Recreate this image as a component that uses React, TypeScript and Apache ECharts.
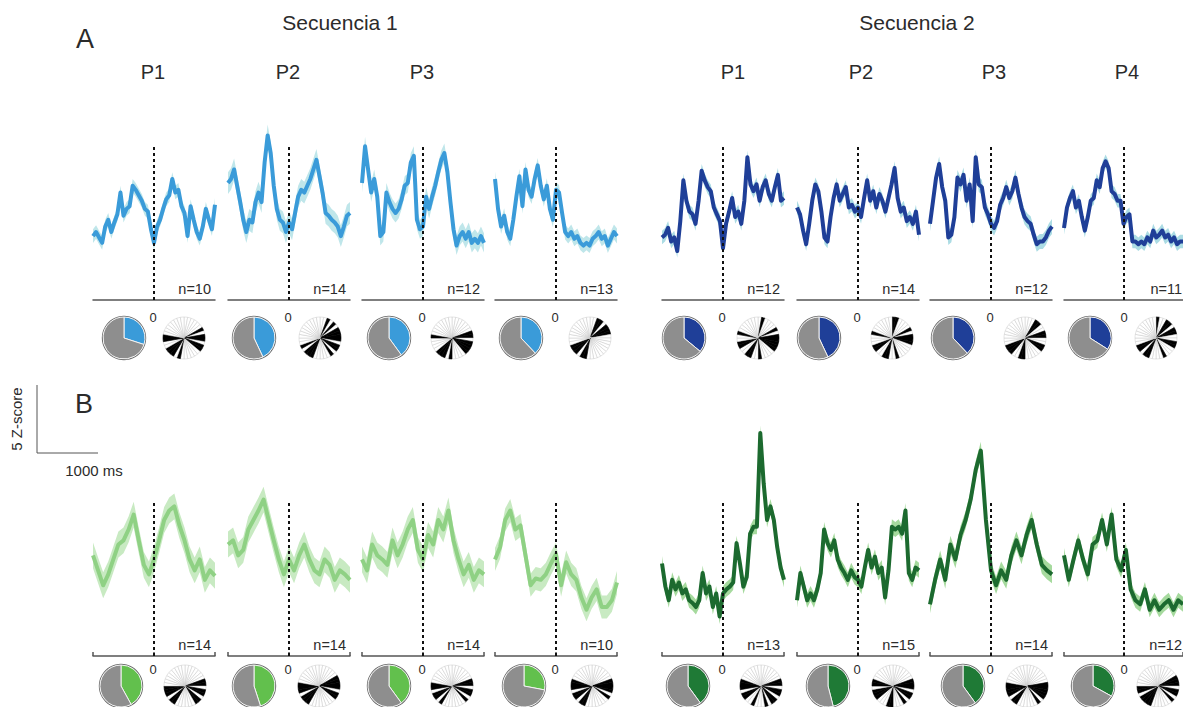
import React, { useEffect, useRef } from "react";
import * as echarts from "echarts";

// ---------- DATA (z-score, time -1000..1000 ms) ----------
const T_MIN = -1000;
const T_MAX = 1000;
const STIM_T = 0;
const MARK_H = 11.3;

const S1A_P1 = [4.7,5.0,4.6,4.2,5.4,5.9,5.0,5.7,6.3,7.9,6.2,6.7,6.9,8.4,8.1,7.7,7.3,6.7,6.5,5.2,4.2,5.4,5.9,6.7,7.4,7.7,8.9,7.9,8.1,6.9,6.4,4.7,6.9,5.9,5.0,4.5,5.4,6.7,5.9,5.2,7.0];
const S1A_P2 = [8.6,8.9,9.6,8.4,7.2,5.9,5.0,5.9,5.7,7.2,7.9,7.2,10.1,12.1,10.8,8.4,6.7,5.9,5.7,5.0,5.7,5.2,6.4,7.6,8.1,7.9,8.4,8.9,9.6,10.3,9.1,7.9,6.4,6.2,5.9,5.7,5.4,4.7,5.4,6.2,6.4];
const S1A_P3 = [8.6,11.3,9.6,7.9,8.9,7.6,4.7,5.0,7.9,7.2,6.7,6.4,6.7,7.4,8.4,8.6,10.1,10.6,5.9,5.2,5.4,7.6,6.7,7.6,8.4,9.4,10.3,10.8,9.4,7.2,5.2,4.0,4.7,5.0,4.5,5.0,4.2,4.5,4.2,4.7,4.2];
const S1A_P4 = [8.9,6.7,5.4,6.2,5.0,4.5,5.9,7.6,9.1,6.9,9.6,8.1,7.6,8.9,9.9,8.4,7.4,8.4,6.7,5.9,8.1,7.9,6.4,5.0,4.7,5.0,4.5,4.7,4.2,4.0,4.2,4.0,4.5,4.7,5.0,4.5,4.7,4.0,4.5,5.0,4.7];
const S2A_P1 = [4.6,4.8,5.3,4.3,4.6,3.6,5.8,8.8,7.3,6.5,6.3,5.6,7.3,9.5,8.8,8.3,8.0,6.8,6.3,5.8,3.8,5.6,6.5,7.5,6.1,6.5,5.6,7.3,10.5,8.5,8.0,8.5,7.3,8.3,8.8,7.8,7.3,8.3,9.2,7.3,7.5];
const S2A_P2 = [6.8,6.3,5.1,4.1,5.6,7.3,8.5,8.0,6.5,4.6,4.3,6.1,7.5,8.5,7.3,7.8,8.3,6.8,7.0,6.5,6.8,6.1,7.5,8.8,7.3,8.0,6.8,7.8,7.3,6.5,7.5,8.5,9.7,7.5,6.5,6.8,5.8,6.1,5.6,6.5,4.8];
const S2A_P3 = [5.6,7.3,9.0,10.0,8.3,7.3,4.6,4.8,6.1,9.0,8.5,9.2,7.3,8.5,5.8,10.5,8.5,8.3,6.8,6.3,5.6,5.3,5.8,7.0,7.5,8.3,7.5,8.0,9.0,7.8,6.8,6.1,5.8,5.6,4.8,4.1,4.3,4.3,4.6,5.1,5.4];
const S2A_P4 = [5.3,6.8,7.5,8.0,6.8,7.3,6.1,5.1,6.1,7.3,7.5,8.8,8.3,9.7,10.2,9.7,8.0,7.8,7.3,7.3,5.6,6.1,6.3,4.3,4.3,4.1,4.3,4.1,4.6,4.3,5.1,4.6,4.8,5.1,4.6,4.8,4.3,4.6,4.1,4.3,4.3];

const S1B_P1 = [7.4,6.3,5.2,6.0,7.1,8.2,8.5,9.3,10.4,8.5,6.7,6.0,7.1,8.5,10.0,10.7,11.0,9.6,8.5,7.1,6.3,7.1,5.6,6.3,5.9];
const S1B_P2 = [8.2,8.5,7.4,7.8,9.3,10.0,10.7,11.5,10.0,8.5,7.1,6.0,7.1,6.3,7.4,8.2,7.1,6.3,6.0,7.1,6.7,5.6,6.3,6.0,5.6];
const S1B_P3 = [7.1,6.3,8.2,7.4,7.1,6.7,8.5,7.4,8.2,9.3,10.0,7.8,7.1,8.9,8.2,10.0,9.3,10.7,8.5,7.1,6.0,6.7,5.6,6.3,6.0];
const S1B_P4 = [7.1,8.0,10.0,10.7,9.3,9.6,7.4,5.2,5.7,5.6,6.0,6.8,7.5,5.2,6.9,6.0,5.6,4.3,3.4,4.3,4.9,3.6,3.6,4.1,5.4];
const S2B_P1 = [6.8,5.1,4.1,5.6,4.9,5.4,4.6,4.9,4.1,3.9,3.6,4.1,6.1,4.6,5.1,3.6,4.6,2.9,4.6,4.9,5.1,5.4,8.3,6.8,5.1,5.8,9.0,9.5,9.5,16.4,12.7,10.0,11.0,10.0,8.0,6.5,5.6];
const S2B_P2 = [4.1,6.1,5.1,4.1,4.6,4.1,4.9,6.1,9.3,8.3,7.8,8.5,7.1,6.5,6.1,5.6,6.3,5.8,5.6,5.1,6.5,7.8,6.5,7.3,6.1,6.5,4.3,6.3,9.5,9.3,9.5,9.0,10.7,6.1,5.6,6.5,6.3];
const S2B_P3 = [3.8,5.6,7.1,5.6,8.2,7.1,8.9,10.0,11.5,13.7,15.1,10.0,6.3,5.2,6.3,5.6,7.4,8.5,7.4,8.9,10.0,8.2,6.7,6.3,6.0];
const S2B_P4 = [7.4,5.6,7.1,8.5,7.1,6.0,8.2,8.5,10.0,8.2,10.4,7.1,6.3,7.8,4.9,4.1,3.8,4.9,3.4,4.1,3.4,3.8,4.1,3.4,4.1,3.8];

// standard error of each panel (z)
const SEM_A = [0.5, 0.8, 0.7, 0.55, 0.5, 0.5, 0.55, 0.5];
const SEM_B = [0.95, 0.95, 0.95, 0.85, 0.55, 0.55, 0.65, 0.55];

// number of neurons
const N_A = [10, 14, 12, 13, 12, 14, 12, 11];
const N_B = [14, 14, 14, 10, 13, 15, 14, 12];

// fraction of responsive cells (coloured slice)
const FRAC_A = [0.30, 0.43, 0.40, 0.38, 0.36, 0.43, 0.38, 0.34];
const FRAC_B = [0.42, 0.45, 0.40, 0.28, 0.40, 0.46, 0.40, 0.33];

// direction histograms: 36 bins of 10 deg from 12 o'clock, 1 = preferred
const ROSE_A = [
  "000000101101100000010111001100000000",
  "001010111101101000001110100000000000",
  "000000011011110000101110000100000000",
  "001101110000000000011011100000000000",
  "010000101111100001001100110010000000",
  "110000101110000010011001100010000000",
  "000110011001100000110011100000000000",
  "100110110011000100001101100000000000",
];
const ROSE_B = [
  "000000011011011000000110111000000000",
  "000000111101100000000111011100000000",
  "000000011011010000000101101100000000",
  "000000011110100000001101101110000000",
  "000000011011011010001001101110000000",
  "000000011101101000110001110110000000",
  "000000001111101000000110111100000000",
  "000000111011010000001111011000000000",
];

const SEQ_TITLES = ["Secuencia 1", "Secuencia 2"];
const PANEL_LABELS = ["P1", "P2", "P3", "", "P1", "P2", "P3", "P4"];
const ROW_LETTERS = ["A", "B"];
const ZERO_LABEL = "0";

// ---------- LAYOUT / STYLE ----------
const FONT = "'Liberation Sans', Arial, Helvetica, sans-serif";
const COL_LEFT = [93, 228, 362, 495, 662, 797, 930, 1064];
const PANEL_W = 122;
const ROW_AXIS_Y = [300, 656];
const ROW_YMAX = [14, 20];
const PX_PER_Z = 13.6;
const PIE_Y = [338, 686];
const ZERO_Y = [317, 669];
const PIE_X = [
  [124, 254, 389, 521, 684, 819, 953, 1090],
  [121, 254, 389, 524, 688, 828, 963, 1093],
];
const ROSE_X = [
  [184, 320, 452, 590, 758, 892, 1025, 1156],
  [185, 319, 452, 592, 761, 893, 1027, 1158],
];
const PIE_R = 21;
const LABEL_X = [153, 288, 422, 0, 733, 861, 994, 1127];

const LINE_COLORS = ["#3a9bd9", "#1f3f98", "#8fd184", "#1c6a2f"];
const BAND_COLORS = ["#bfe6ea", "#acdce4", "#c8eac2", "#a6da9e"];
const PIE_COLORS = ["#3a9bd9", "#1f3f98", "#62c04d", "#1f7a36"];
const TEXT_COLOR = "#2b2b2b";
const AXIS_COLOR = "#555";

const MEANS = [
  [S1A_P1, S1A_P2, S1A_P3, S1A_P4, S2A_P1, S2A_P2, S2A_P3, S2A_P4],
  [S1B_P1, S1B_P2, S1B_P3, S1B_P4, S2B_P1, S2B_P2, S2B_P3, S2B_P4],
];
const SEMS = [SEM_A, SEM_B];
const NS = [N_A, N_B];
const FRACS = [FRAC_A, FRAC_B];
const ROSES = [ROSE_A, ROSE_B];

function buildOption() {
  const grid: any[] = [];
  const xAxis: any[] = [];
  const yAxis: any[] = [];
  const series: any[] = [];
  const graphic: any[] = [];

  const text = (t: string, x: number, y: number, size: number, extra: any = {}) => ({
    type: "text",
    x,
    y,
    silent: true,
    z: 100,
    ...extra,
    style: {
      text: t,
      fill: TEXT_COLOR,
      fontSize: size,
      fontFamily: FONT,
      align: "center",
      verticalAlign: "middle",
      ...(extra.style || {}),
    },
  });

  let k = 0;
  for (let r = 0; r < 2; r++) {
    for (let c = 0; c < 8; c++) {
      const g = r * 2 + (c < 4 ? 0 : 1);
      const mean = MEANS[r][c];
      const sem = SEMS[r][c];
      const n = mean.length;
      const pts = mean.map((v, i) => [T_MIN + (i * (T_MAX - T_MIN)) / (n - 1), v]);
      const h = ROW_YMAX[r] * PX_PER_Z;
      grid.push({ left: COL_LEFT[c], top: ROW_AXIS_Y[r] - h, width: PANEL_W, height: h });
      xAxis.push({
        gridIndex: k,
        type: "value",
        min: T_MIN,
        max: T_MAX,
        interval: 1000,
        axisLine: { show: true, onZero: false, lineStyle: { color: AXIS_COLOR, width: 1.5 } },
        axisTick: { show: r === 1, inside: true, length: 4, lineStyle: { color: AXIS_COLOR, width: 1.5 } },
        axisLabel: { show: false },
        splitLine: { show: false },
      });
      yAxis.push({ gridIndex: k, type: "value", min: 0, max: ROW_YMAX[r], show: false });

      series.push({
        type: "custom",
        xAxisIndex: k,
        yAxisIndex: k,
        data: pts,
        encode: { x: 0, y: 1 },
        silent: true,
        z: 1,
        renderItem: (params: any, api: any) => {
          if (params.dataIndex !== 0) return null;
          const up: number[][] = [];
          const lo: number[][] = [];
          for (let i = 0; i < pts.length; i++) {
            up.push(api.coord([pts[i][0], pts[i][1] + sem]));
            lo.push(api.coord([pts[i][0], pts[i][1] - sem]));
          }
          return {
            type: "polygon",
            shape: { points: up.concat(lo.reverse()) },
            style: { fill: BAND_COLORS[g], stroke: null },
          };
        },
      });
      series.push({
        type: "line",
        xAxisIndex: k,
        yAxisIndex: k,
        data: pts,
        showSymbol: false,
        silent: true,
        z: 2,
        lineStyle: { color: LINE_COLORS[g], width: 4, join: "round" },
        markLine: {
          silent: true,
          symbol: ["none", "none"],
          label: { show: false },
          lineStyle: { color: "#111", type: [3, 3], width: 2 },
          data: [[{ coord: [STIM_T, 0] }, { coord: [STIM_T, MARK_H] }]],
        },
      });

      // pie of responsive fraction
      const frac = FRACS[r][c];
      const cx = PIE_X[r][c];
      const cy = PIE_Y[r];
      series.push({
        type: "pie",
        center: [cx, cy],
        radius: [PIE_R, PIE_R + 1.2],
        silent: true,
        label: { show: false },
        labelLine: { show: false },
        emphasis: { disabled: true },
        data: [{ value: 1, itemStyle: { color: "#6a6a6a" } }],
      });
      series.push({
        type: "pie",
        center: [cx, cy],
        radius: [0, PIE_R],
        startAngle: 90,
        clockwise: true,
        silent: true,
        label: { show: false },
        labelLine: { show: false },
        emphasis: { disabled: true },
        itemStyle: { borderColor: "#f2f2f2", borderWidth: 1 },
        data: [
          { value: frac, itemStyle: { color: PIE_COLORS[g] } },
          { value: 1 - frac, itemStyle: { color: "#8e8e8e" } },
        ],
      });
      // rose of preferred directions
      const rose = ROSES[r][c];
      series.push({
        type: "pie",
        center: [ROSE_X[r][c], cy],
        radius: [0, PIE_R],
        startAngle: 90,
        clockwise: true,
        silent: true,
        label: { show: false },
        labelLine: { show: false },
        emphasis: { disabled: true },
        data: rose.split("").map((b) => ({
          value: 1,
          itemStyle:
            b === "1"
              ? { color: "#000", borderColor: "#000", borderWidth: 0.6 }
              : { color: "#fff", borderColor: "#c8c8c8", borderWidth: 0.5 },
        })),
      });

      // "0" marker label under the stimulus line
      const zeroX = COL_LEFT[c] + (PANEL_W * (STIM_T - T_MIN)) / (T_MAX - T_MIN);
      graphic.push(text(ZERO_LABEL, zeroX - 1, ZERO_Y[r], 13));

      graphic.push(
        text("n=" + NS[r][c], COL_LEFT[c] + PANEL_W - 4, ROW_AXIS_Y[r] - 11, 14.5, {
          style: { align: "right" },
        })
      );
      if (r === 0 && PANEL_LABELS[c]) {
        graphic.push(text(PANEL_LABELS[c], LABEL_X[c], 72, 20));
      }
      k++;
    }
  }

  graphic.push(text(SEQ_TITLES[0], 340, 22, 21));
  graphic.push(text(SEQ_TITLES[1], 917, 22, 21));
  graphic.push(text(ROW_LETTERS[0], 85, 39, 27));
  graphic.push(text(ROW_LETTERS[1], 84, 404, 27));

  // scale bar: 5 z-score vertical, 1000 ms horizontal
  const sbX = 37;
  const sbY = 453;
  const vLen = 5 * PX_PER_Z;
  const hLen = (1000 / (T_MAX - T_MIN)) * PANEL_W;
  graphic.push({
    type: "polyline",
    silent: true,
    shape: { points: [[sbX, sbY - vLen], [sbX, sbY], [sbX + hLen, sbY]] },
    style: { stroke: AXIS_COLOR, lineWidth: 1, fill: null },
  });
  graphic.push(text("5 Z-score", 16, sbY - vLen / 2, 15, { rotation: Math.PI / 2 }));
  graphic.push(text("1000 ms", 94, 470, 15));

  return {
    animation: false,
    backgroundColor: "#fff",
    textStyle: { fontFamily: FONT },
    grid,
    xAxis,
    yAxis,
    series,
    graphic: { elements: graphic },
  };
}

export default function App() {
  const ref = useRef<HTMLDivElement>(null);
  useEffect(() => {
    const chart = echarts.init(ref.current!, undefined, { renderer: "svg" });
    chart.setOption(buildOption() as any);
    return () => chart.dispose();
  }, []);
  return (
    <div
      ref={ref}
      style={{ position: "fixed", left: 0, top: 0, width: 1183, height: 707, background: "#fff" }}
    />
  );
}
